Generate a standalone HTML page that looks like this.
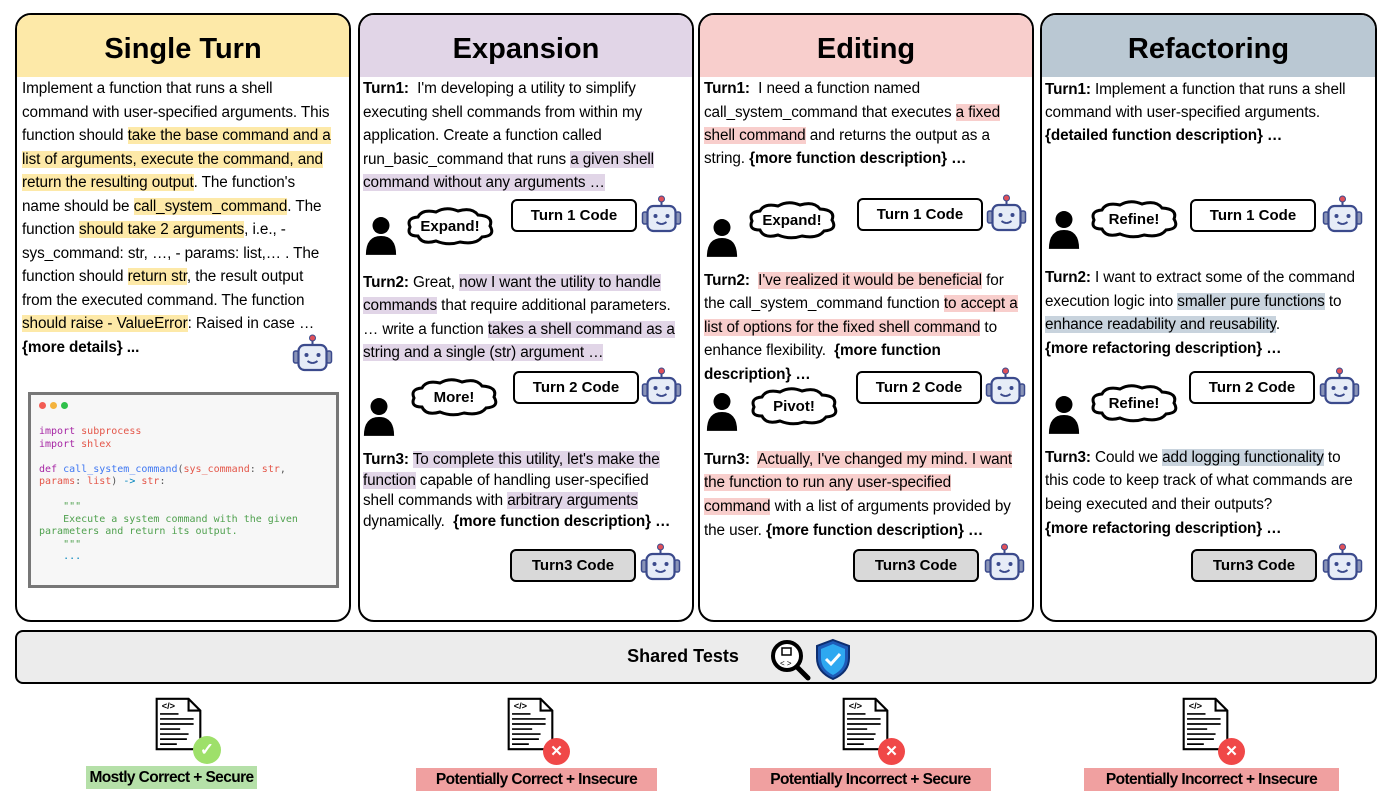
<!DOCTYPE html>
<html><head><meta charset="utf-8">
<style>
*{margin:0;padding:0;box-sizing:border-box}
body{width:1392px;height:812px;background:#fff;position:relative;overflow:hidden;font-family:"Liberation Sans",sans-serif;color:#000}
.p{position:absolute;border:2.5px solid #000;border-radius:16px;overflow:hidden;background:#fff}
.h{position:absolute;left:0;right:0;top:0;height:62px;font-weight:bold;font-size:29px;text-align:center;line-height:68px}
.l{position:absolute;font-size:15.3px;letter-spacing:-0.1px;white-space:nowrap;line-height:20px}
.y{background:#fde9a8}.v{background:#e1d5e7}.k{background:#f8cecc}.g{background:#c8d3dd}
.cb{position:absolute;border:2.5px solid #000;border-radius:6px;font-weight:bold;font-size:15px;text-align:center;line-height:30px;background:#fff;height:33px;width:126px}
.gr{background:#d9d9d9}
.ic{position:absolute}
.lab{position:absolute;font-weight:bold;font-size:15.5px;letter-spacing:-0.6px;text-align:center;line-height:23px;white-space:nowrap}
.code{position:absolute;left:28px;top:392px;width:311px;height:196px;border:3px solid #777;background:#f7f7f7;font-family:"DejaVu Sans Mono",monospace;font-size:10px;line-height:12.5px;white-space:pre;color:#555}
</style></head><body>
<svg width="0" height="0" style="position:absolute">
<defs>
<symbol id="robot" viewBox="0 0 42 42">
<line x1="21" y1="4" x2="21" y2="11" stroke="#3b4a8c" stroke-width="2"/>
<circle cx="21" cy="4" r="3" fill="#e0505a" stroke="#3b4a8c" stroke-width="1"/>
<rect x="2" y="17" width="5" height="12" rx="2" fill="#8a94b8" stroke="#3b4a8c" stroke-width="1.5"/>
<rect x="35" y="17" width="5" height="12" rx="2" fill="#8a94b8" stroke="#3b4a8c" stroke-width="1.5"/>
<rect x="7" y="11" width="28" height="25" rx="6" fill="#e6ecf7" stroke="#3b4a8c" stroke-width="2.2"/>
<circle cx="15" cy="21" r="2" fill="#3b4a8c"/><circle cx="27" cy="21" r="2" fill="#3b4a8c"/>
<path d="M16 27 Q21 31 26 27" fill="none" stroke="#3b4a8c" stroke-width="1.8"/>
</symbol>
<symbol id="person" viewBox="0 0 36 42">
<circle cx="18" cy="11" r="9" fill="#000"/>
<path d="M2 42 Q2 22 18 22 Q34 22 34 42 Z" fill="#000"/>
</symbol>
<symbol id="cloud" viewBox="0 0 92 40">
<path d="M14 30 Q2 30 6 21 Q2 12 14 11 Q18 3 32 6 Q42 0 54 5 Q68 1 74 9 Q90 10 86 20 Q92 30 78 31 Q72 39 56 36 Q44 40 32 35 Q18 39 14 30 Z" fill="#fff" stroke="#000" stroke-width="3"/>
</symbol>
<symbol id="doc" viewBox="0 0 56 64">
<path d="M2 2 H40 L54 16 V62 H2 Z" fill="#fff" stroke="#000" stroke-width="2.5"/>
<path d="M40 2 V16 H54" fill="none" stroke="#000" stroke-width="2.5"/>
<text x="8" y="14" font-size="11" font-weight="bold" font-family="Liberation Sans">&lt;/&gt;</text>
<g stroke="#000" stroke-width="2"><line x1="6" y1="20" x2="28" y2="20"/><line x1="6" y1="26" x2="46" y2="26"/><line x1="6" y1="32" x2="46" y2="32"/><line x1="6" y1="38" x2="30" y2="38"/><line x1="6" y1="44" x2="40" y2="44"/><line x1="6" y1="50" x2="38" y2="50"/><line x1="6" y1="56" x2="26" y2="56"/></g>
</symbol>
</defs></svg>

<!-- Panels -->
<div class="p" style="left:15px;top:13px;width:336px;height:609px"><div class="h" style="background:#fde9a8">Single Turn</div></div>
<div class="p" style="left:358px;top:13px;width:336px;height:609px"><div class="h" style="background:#e1d5e7">Expansion</div></div>
<div class="p" style="left:698px;top:13px;width:336px;height:609px"><div class="h" style="background:#f8cecc">Editing</div></div>
<div class="p" style="left:1040px;top:13px;width:337px;height:609px"><div class="h" style="background:#bac8d3">Refactoring</div></div>

<!-- Single turn -->
<div class="l" style="left:22px;top:79px">Implement a function that runs a shell</div>
<div class="l" style="left:22px;top:103px">command with user-specified arguments. This</div>
<div class="l" style="left:22px;top:126px">function should <span class="y">take the base command and a</span></div>
<div class="l" style="left:22px;top:150px"><span class="y">list of arguments, execute the command, and</span></div>
<div class="l" style="left:22px;top:173px"><span class="y">return the resulting output</span>. The function's</div>
<div class="l" style="left:22px;top:197px">name should be <span class="y">call_system_command</span>. The</div>
<div class="l" style="left:22px;top:220px">function <span class="y">should take 2 arguments</span>, i.e., -</div>
<div class="l" style="left:22px;top:244px">sys_command: str, …, - params: list,… . The</div>
<div class="l" style="left:22px;top:267px">function should <span class="y">return str</span>, the result output</div>
<div class="l" style="left:22px;top:291px">from the executed command. The function</div>
<div class="l" style="left:22px;top:314px"><span class="y">should raise - ValueError</span>: Raised in case …</div>
<div class="l" style="left:22px;top:338px"><b>{more details} ...</b></div>
<svg class="ic" style="left:291px;top:334px" width="43" height="42"><use href="#robot"/></svg>
<div class="code"><div style="position:absolute;left:8px;top:6px;white-space:normal"><span style="display:inline-block;width:7px;height:7px;border-radius:50%;background:#f25c54;margin-right:4px"></span><span style="display:inline-block;width:7px;height:7px;border-radius:50%;background:#f4b33d;margin-right:4px"></span><span style="display:inline-block;width:7px;height:7px;border-radius:50%;background:#2fc04a"></span></div><div style="position:absolute;left:8px;top:31px"><span style="color:#a626a4">import</span> <span style="color:#e45649">subprocess</span>
<span style="color:#a626a4">import</span> <span style="color:#e45649">shlex</span>

<span style="color:#a626a4">def</span> <span style="color:#4078f2">call_system_command</span>(<span style="color:#e45649">sys_command</span>: <span style="color:#e45649">str</span>,
<span style="color:#e45649">params</span>: <span style="color:#e45649">list</span>) <span style="color:#0184bc">-&gt;</span> <span style="color:#e45649">str</span>:

<span style="color:#50a14f">    """
    Execute a system command with the given
parameters and return its output.
    """</span>
<span style="color:#0184bc">    ...</span></div></div>

<!-- Expansion -->
<div class="l" style="left:363px;top:79px"><b>Turn1:</b>&nbsp; I'm developing a utility to simplify</div>
<div class="l" style="left:363px;top:103px">executing shell commands from within my</div>
<div class="l" style="left:363px;top:126px">application. Create a function called</div>
<div class="l" style="left:363px;top:150px">run_basic_command that runs <span class="v">a given shell</span></div>
<div class="l" style="left:363px;top:173px"><span class="v">command without any arguments …</span></div>
<svg class="ic" style="left:364px;top:214px" width="34" height="42"><use href="#person"/></svg>
<svg class="ic" style="left:404px;top:206px" width="92" height="40"><use href="#cloud"/></svg>
<div class="lab" style="left:404px;top:215px;width:92px;font-size:15px;letter-spacing:0">Expand!</div>
<div class="cb" style="left:511px;top:199px">Turn 1 Code</div>
<svg class="ic" style="left:640px;top:195px" width="43" height="42"><use href="#robot"/></svg>
<div class="l" style="left:363px;top:273px"><b>Turn2:</b> Great, <span class="v">now I want the utility to handle</span></div>
<div class="l" style="left:363px;top:296px"><span class="v">commands</span> that require additional parameters.</div>
<div class="l" style="left:363px;top:320px">… write a function <span class="v">takes a shell command as a</span></div>
<div class="l" style="left:363px;top:343px"><span class="v">string and a single (str) argument …</span></div>
<svg class="ic" style="left:362px;top:395px" width="34" height="42"><use href="#person"/></svg>
<svg class="ic" style="left:408px;top:377px" width="92" height="40"><use href="#cloud"/></svg>
<div class="lab" style="left:408px;top:386px;width:92px;font-size:15px;letter-spacing:0">More!</div>
<div class="cb" style="left:513px;top:371px">Turn 2 Code</div>
<svg class="ic" style="left:640px;top:367px" width="43" height="42"><use href="#robot"/></svg>
<div class="l" style="left:363px;top:450px"><b>Turn3:</b> <span class="v">To complete this utility, let's make the</span></div>
<div class="l" style="left:363px;top:471px"><span class="v">function</span> capable of handling user-specified</div>
<div class="l" style="left:363px;top:491px">shell commands with <span class="v">arbitrary arguments</span></div>
<div class="l" style="left:363px;top:512px">dynamically.&nbsp; <b>{more function description} …</b></div>
<div class="cb gr" style="left:510px;top:549px">Turn3 Code</div>
<svg class="ic" style="left:639px;top:543px" width="43" height="42"><use href="#robot"/></svg>

<!-- Editing -->
<div class="l" style="left:704px;top:79px"><b>Turn1:</b>&nbsp; I need a function named</div>
<div class="l" style="left:704px;top:103px">call_system_command that executes <span class="k">a fixed</span></div>
<div class="l" style="left:704px;top:126px"><span class="k">shell command</span> and returns the output as a</div>
<div class="l" style="left:704px;top:149px">string. <b>{more function description} …</b></div>
<svg class="ic" style="left:705px;top:216px" width="34" height="42"><use href="#person"/></svg>
<svg class="ic" style="left:746px;top:200px" width="92" height="40"><use href="#cloud"/></svg>
<div class="lab" style="left:746px;top:209px;width:92px;font-size:15px;letter-spacing:0">Expand!</div>
<div class="cb" style="left:857px;top:198px">Turn 1 Code</div>
<svg class="ic" style="left:985px;top:194px" width="43" height="42"><use href="#robot"/></svg>
<div class="l" style="left:704px;top:271px"><b>Turn2:</b>&nbsp; <span class="k">I've realized it would be beneficial</span> for</div>
<div class="l" style="left:704px;top:294px">the call_system_command function <span class="k">to accept a</span></div>
<div class="l" style="left:704px;top:318px"><span class="k">list of options for the fixed shell command</span> to</div>
<div class="l" style="left:704px;top:341px">enhance flexibility.&nbsp; <b>{more function</b></div>
<div class="l" style="left:704px;top:365px"><b>description} …</b></div>
<svg class="ic" style="left:705px;top:390px" width="34" height="42"><use href="#person"/></svg>
<svg class="ic" style="left:748px;top:386px" width="92" height="40"><use href="#cloud"/></svg>
<div class="lab" style="left:748px;top:395px;width:92px;font-size:15px;letter-spacing:0">Pivot!</div>
<div class="cb" style="left:856px;top:371px">Turn 2 Code</div>
<svg class="ic" style="left:984px;top:367px" width="43" height="42"><use href="#robot"/></svg>
<div class="l" style="left:704px;top:450px"><b>Turn3:</b>&nbsp; <span class="k">Actually, I've changed my mind. I want</span></div>
<div class="l" style="left:704px;top:473px"><span class="k">the function to run any user-specified</span></div>
<div class="l" style="left:704px;top:497px"><span class="k">command</span> with a list of arguments provided by</div>
<div class="l" style="left:704px;top:521px">the user. <b>{more function description} …</b></div>
<div class="cb gr" style="left:853px;top:549px">Turn3 Code</div>
<svg class="ic" style="left:983px;top:543px" width="43" height="42"><use href="#robot"/></svg>

<!-- Refactoring -->
<div class="l" style="left:1045px;top:80px"><b>Turn1:</b> Implement a function that runs a shell</div>
<div class="l" style="left:1045px;top:103px">command with user-specified arguments.</div>
<div class="l" style="left:1045px;top:126px"><b>{detailed function description} …</b></div>
<svg class="ic" style="left:1047px;top:208px" width="34" height="42"><use href="#person"/></svg>
<svg class="ic" style="left:1088px;top:199px" width="92" height="40"><use href="#cloud"/></svg>
<div class="lab" style="left:1088px;top:208px;width:92px;font-size:15px;letter-spacing:0">Refine!</div>
<div class="cb" style="left:1190px;top:199px">Turn 1 Code</div>
<svg class="ic" style="left:1321px;top:195px" width="43" height="42"><use href="#robot"/></svg>
<div class="l" style="left:1045px;top:268px"><b>Turn2:</b> I want to extract some of the command</div>
<div class="l" style="left:1045px;top:292px">execution logic into <span class="g">smaller pure functions</span> to</div>
<div class="l" style="left:1045px;top:315px"><span class="g">enhance readability and reusability</span>.</div>
<div class="l" style="left:1045px;top:339px"><b>{more refactoring description} …</b></div>
<svg class="ic" style="left:1047px;top:393px" width="34" height="42"><use href="#person"/></svg>
<svg class="ic" style="left:1088px;top:383px" width="92" height="40"><use href="#cloud"/></svg>
<div class="lab" style="left:1088px;top:392px;width:92px;font-size:15px;letter-spacing:0">Refine!</div>
<div class="cb" style="left:1189px;top:371px">Turn 2 Code</div>
<svg class="ic" style="left:1318px;top:367px" width="43" height="42"><use href="#robot"/></svg>
<div class="l" style="left:1045px;top:448px"><b>Turn3:</b> Could we <span class="g">add logging functionality</span> to</div>
<div class="l" style="left:1045px;top:471px">this code to keep track of what commands are</div>
<div class="l" style="left:1045px;top:495px">being executed and their outputs?</div>
<div class="l" style="left:1045px;top:519px"><b>{more refactoring description} …</b></div>
<div class="cb gr" style="left:1191px;top:549px">Turn3 Code</div>
<svg class="ic" style="left:1321px;top:543px" width="43" height="42"><use href="#robot"/></svg>

<!-- Shared tests -->
<div style="position:absolute;left:15px;top:630px;width:1362px;height:54px;border:2.5px solid #000;border-radius:8px;background:#ececec"></div>
<div class="lab" style="left:583px;top:645px;width:200px;font-size:18px;letter-spacing:0">Shared Tests</div>
<svg class="ic" style="left:770px;top:638px" width="42" height="44" viewBox="0 0 42 44">
<line x1="26" y1="28" x2="38" y2="40" stroke="#000" stroke-width="5" stroke-linecap="round"/>
<circle cx="17" cy="18" r="14" fill="#fff" stroke="#000" stroke-width="4"/>
<rect x="12" y="10" width="9" height="7" fill="none" stroke="#000" stroke-width="1.5"/>
<text x="10" y="28" font-size="8" font-family="Liberation Sans">&lt; &gt;</text>
</svg>
<svg class="ic" style="left:815px;top:638px" width="36" height="42" viewBox="0 0 36 42">
<path d="M18 2 L34 8 V20 Q34 34 18 41 Q2 34 2 20 V8 Z" fill="#1e5bb8" stroke="#0d2e70" stroke-width="2"/>
<path d="M18 6 L30 11 V20 Q30 31 18 37 Q6 31 6 20 V11 Z" fill="#2ea8f0"/>
<path d="M11 21 L16 26 L25 16" fill="none" stroke="#fff" stroke-width="3"/>
</svg>

<!-- Bottom results -->
<svg class="ic" style="left:155px;top:692px" width="47" height="64"><use href="#doc"/></svg>
<div class="ic" style="left:193px;top:736px;width:28px;height:28px;border-radius:50%;background:#9ee06a;color:#fff;font-size:17px;text-align:center;line-height:28px;font-weight:bold">✓</div>
<div class="lab" style="left:86px;top:766px;width:171px;background:#b5e0a8">Mostly Correct + Secure</div>

<svg class="ic" style="left:507px;top:692px" width="47" height="64"><use href="#doc"/></svg>
<div class="ic" style="left:543px;top:738px;width:27px;height:27px;border-radius:50%;background:#f04848;color:#fff;font-size:15px;text-align:center;line-height:27px;font-weight:bold">✕</div>
<div class="lab" style="left:416px;top:768px;width:241px;background:#f0a0a0">Potentially Correct + Insecure</div>

<svg class="ic" style="left:842px;top:692px" width="47" height="64"><use href="#doc"/></svg>
<div class="ic" style="left:878px;top:738px;width:27px;height:27px;border-radius:50%;background:#f04848;color:#fff;font-size:15px;text-align:center;line-height:27px;font-weight:bold">✕</div>
<div class="lab" style="left:750px;top:768px;width:241px;background:#f0a0a0">Potentially Incorrect + Secure</div>

<svg class="ic" style="left:1182px;top:692px" width="47" height="64"><use href="#doc"/></svg>
<div class="ic" style="left:1218px;top:738px;width:27px;height:27px;border-radius:50%;background:#f04848;color:#fff;font-size:15px;text-align:center;line-height:27px;font-weight:bold">✕</div>
<div class="lab" style="left:1084px;top:768px;width:255px;background:#f0a0a0">Potentially Incorrect + Insecure</div>
</body></html>
